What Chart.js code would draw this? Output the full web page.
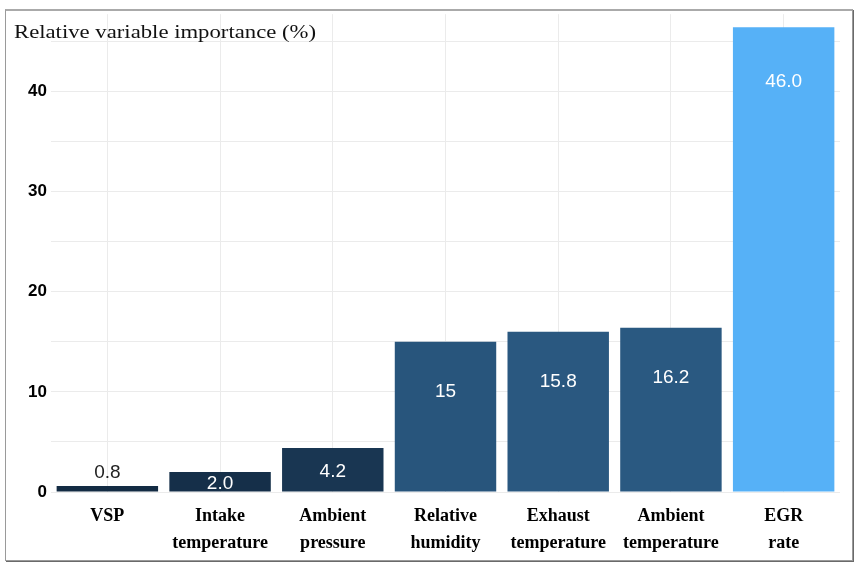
<!DOCTYPE html>
<html>
<head>
<meta charset="utf-8">
<script src="https://cdn.jsdelivr.net/npm/chart.js@4.4.1/dist/chart.umd.min.js"></script>
<style>
  body { margin: 0; background: #fff; }
  .wrap { position: relative; width: 862px; height: 569px; }
  .frame { position: absolute; left: 5px; top: 9px; width: 846px; height: 549px;
           border: 1px solid #9a9a9a; border-top: 2px solid #aaa; box-shadow: 1px 1px 0 #6a6a6a; pointer-events: none; }
</style>
</head>
<body>
<div class="wrap">
  <canvas id="importance-graph" width="862" height="569"></canvas>
  <div class="frame"></div>
</div>
<script>
var categories = [["VSP"], ["Intake", "temperature"], ["Ambient", "pressure"], ["Relative", "humidity"],
                  ["Exhaust", "temperature"], ["Ambient", "temperature"], ["EGR", "rate"]];
// bar heights
var importance = [0.6, 2.0, 4.4, 15.0, 16.0, 16.4, 46.4];
// printed value labels
var valueLabels = ["0.8", "2.0", "4.2", "15", "15.8", "16.2", "46.0"];
var yTicks = [0, 10, 20, 30, 40];

// ggplot-like gradient #132B43 -> #56B1F7
function fillFor(v){
      var lo = [19, 43, 67], hi = [86, 177, 247];
      var min = Math.min.apply(null, importance), max = Math.max.apply(null, importance);
      var t = (v - min) / (max - min);
      var c = lo.map(function(a, i){ return Math.round(a + t * (hi[i] - a)); });
      return "rgb(" + c.join(",") + ")";
}

var titlePlugin = {
      id: "titleText",
      afterDatasetsDraw: function(chart){
            var ctx = chart.ctx;
            ctx.save();
            ctx.font = "19px 'Liberation Serif'";
            ctx.fillStyle = "#111";
            ctx.textBaseline = "alphabetic";
            ctx.translate(14, 38);
            var w = ctx.measureText("Relative variable importance (%)").width;
            ctx.scale(302 / w, 1);
            ctx.fillText("Relative variable importance (%)", 0, 0);
            ctx.restore();

            // value labels
            ctx.save();
            var meta = chart.getDatasetMeta(0);
            ctx.font = "19px 'Liberation Sans'";
            ctx.textAlign = "center";
            ctx.textBaseline = "middle";
            meta.data.forEach(function(bar, i){
                  var v = importance[i];
                  var y, col = "#fff";
                  if (v < 1.5) { y = bar.y - 13; col = "#222"; }
                  else if (v < 10) { y = (bar.y + bar.base) / 2 + 2; }
                  else { y = bar.y + 50 + (v > 40 ? 5 : 0); }
                  ctx.fillStyle = col;
                  ctx.fillText(valueLabels[i], bar.x, y);
            });
            ctx.restore();
      }
};

var ctx1 = document.getElementById("importance-graph");
var chart = new Chart(ctx1, {
      type: "bar",
      data: {
            labels: categories,
            datasets: [{
                  data: importance,
                  backgroundColor: importance.map(fillFor),
                  borderWidth: 0,
                  barPercentage: 0.9,
                  categoryPercentage: 1.0
            }]
      },
      options: {
            responsive: false,
            animation: false,
            layout: { padding: { top: 11, right: 22, bottom: 0, left: 0 } },
            plugins: { legend: { display: false }, tooltip: { enabled: false } },
            scales: {
                  x: {
                        grid: { offset: false, color: "#ebebeb", drawTicks: false },
                        border: { display: false },
                        ticks: {
                              color: "#000",
                              padding: 11,
                              font: { family: "'Liberation Serif'", size: 18, weight: "bold", lineHeight: 1.5 },
                              maxRotation: 0, autoSkip: false
                        },
                        afterFit: function(scale){ scale.height = 77; }
                  },
                  y: {
                        min: 0,
                        max: 47.7,
                        grid: { color: "#ebebeb", drawTicks: false },
                        border: { display: false },
                        afterBuildTicks: function(scale){
                              var t = [];
                              for (var v = 0; v <= 45; v += 5) t.push({ value: v });
                              scale.ticks = t;
                        },
                        ticks: {
                              color: "#000",
                              padding: 4,
                              font: { family: "'Liberation Sans'", size: 17, weight: "bold" },
                              callback: function(v){ return yTicks.indexOf(v) >= 0 ? v : ""; }
                        },
                        afterFit: function(scale){ scale.width = 51; }
                  }
            }
      },
      plugins: [titlePlugin]
});
</script>
</body>
</html>
